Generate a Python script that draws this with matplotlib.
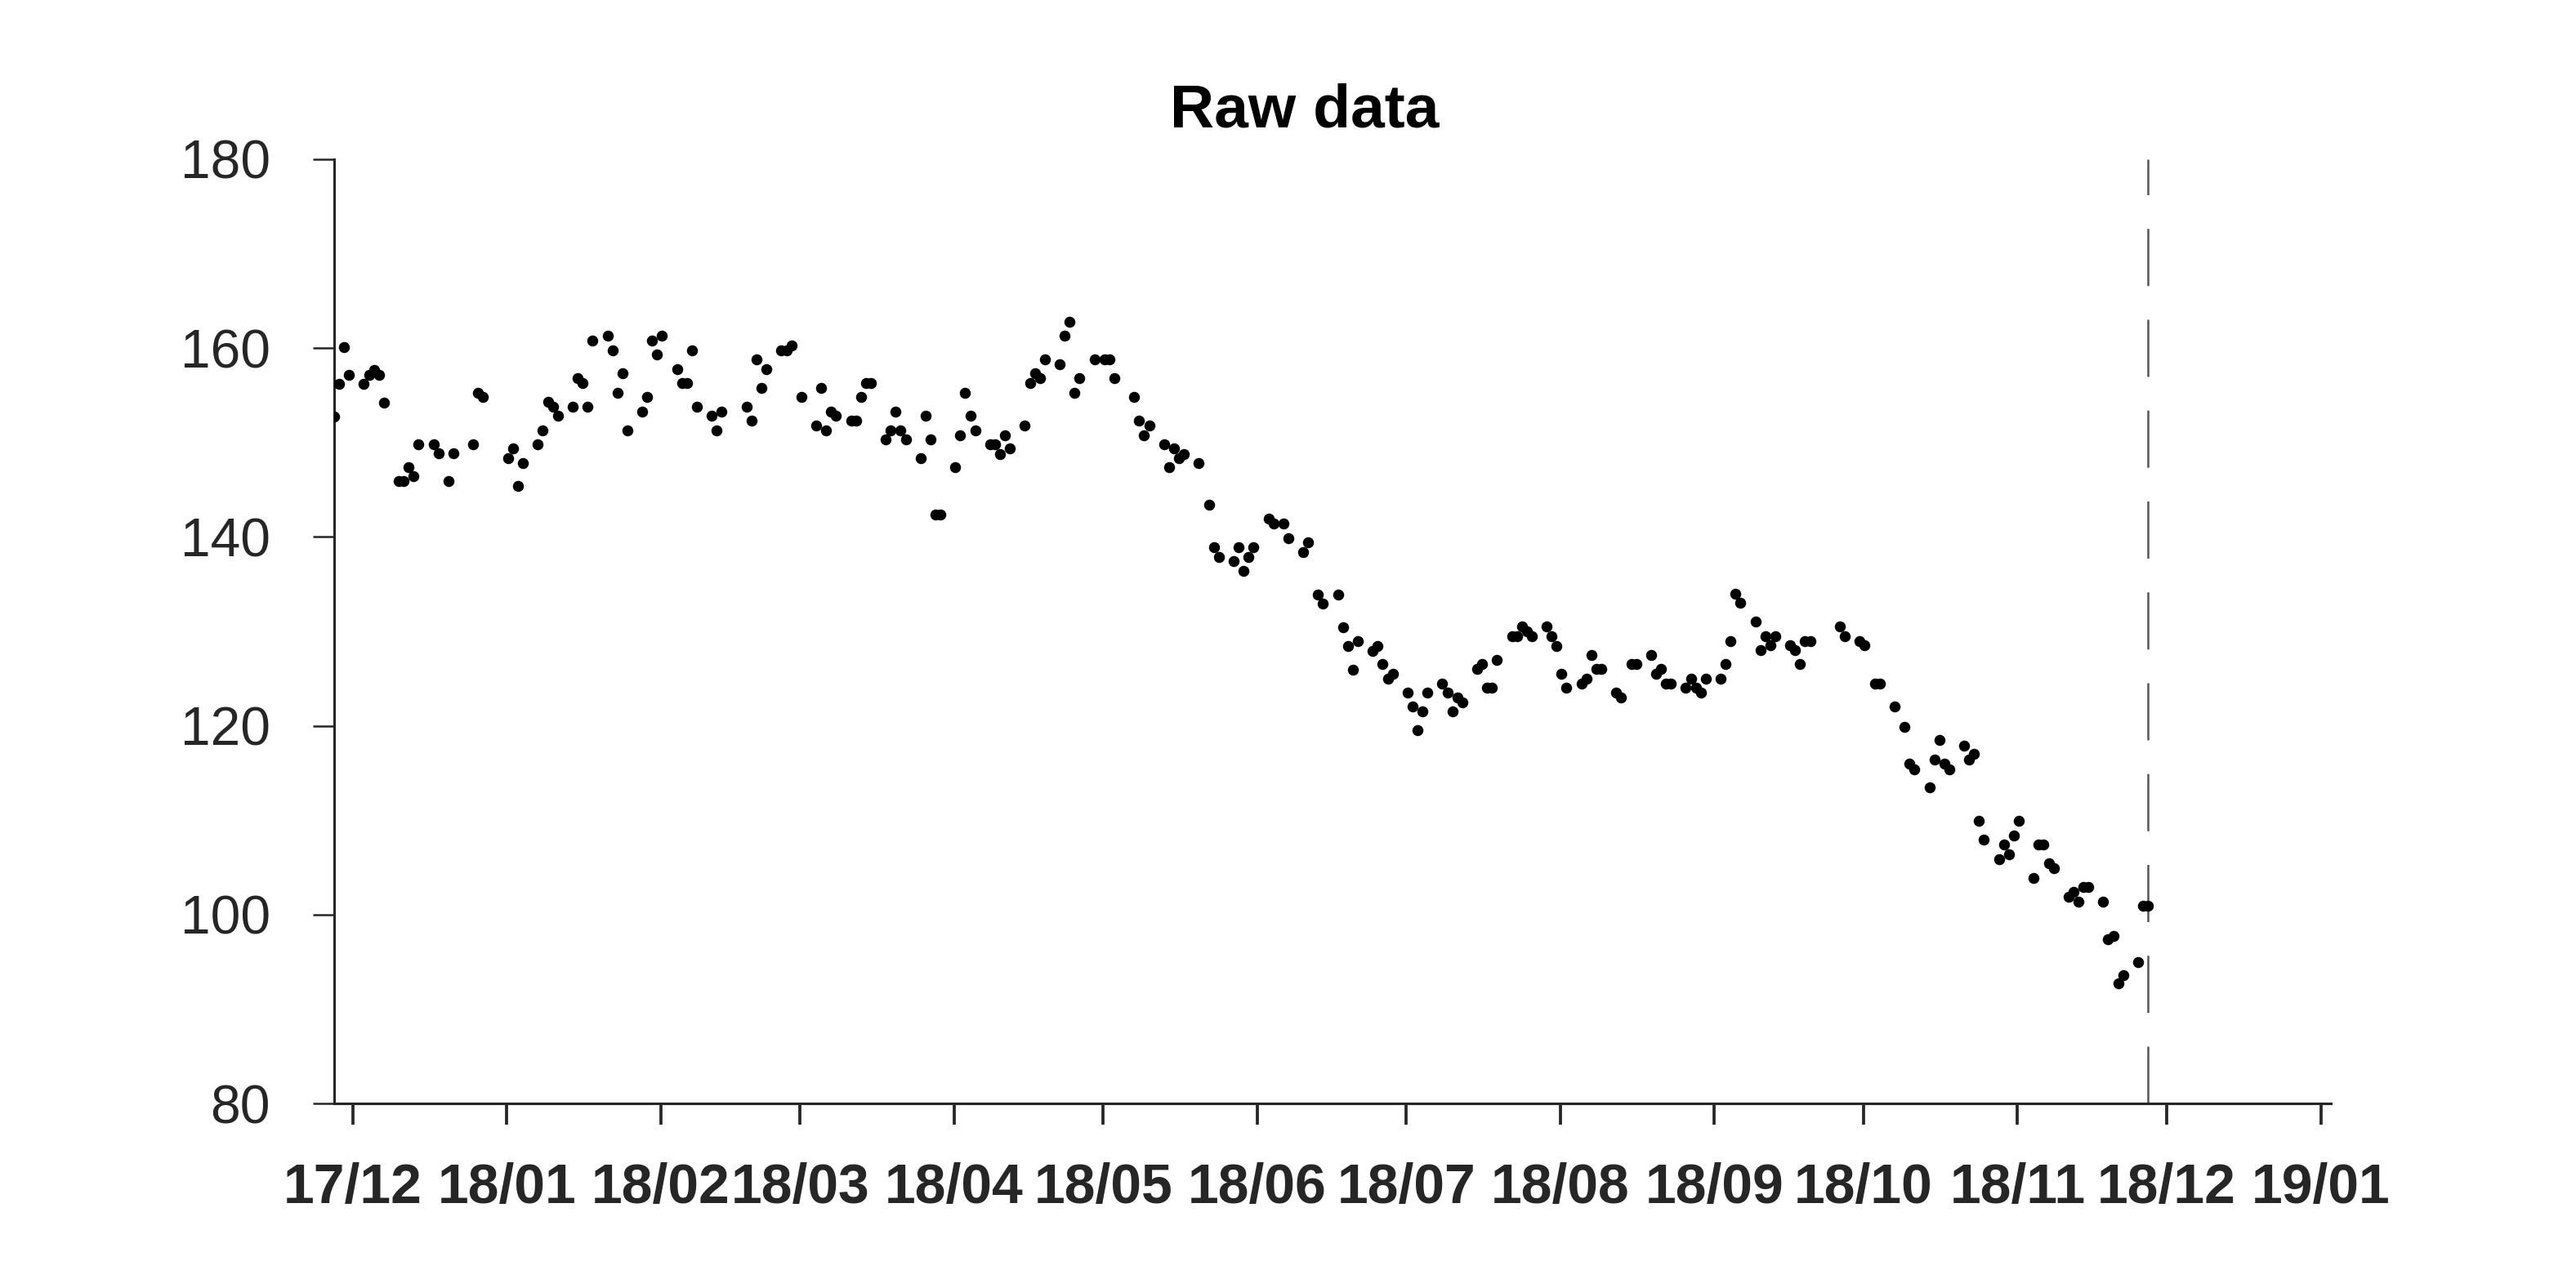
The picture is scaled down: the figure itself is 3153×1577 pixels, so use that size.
import matplotlib
matplotlib.use("Agg")
import matplotlib.pyplot as plt
import pandas as pd

plt.rcParams['font.family'] = ['Liberation Sans', 'DejaVu Sans']

title = "Raw data"

dates = [
    "2017-11-28", "2017-11-29", "2017-11-30", "2017-12-01",
    "2017-12-04", "2017-12-05", "2017-12-06", "2017-12-07", "2017-12-08",
    "2017-12-11", "2017-12-12", "2017-12-13", "2017-12-14", "2017-12-15",
    "2017-12-18", "2017-12-19", "2017-12-21", "2017-12-22",
    "2017-12-26", "2017-12-27", "2017-12-28",
    "2018-01-02", "2018-01-03", "2018-01-04", "2018-01-05",
    "2018-01-08", "2018-01-09", "2018-01-10", "2018-01-11", "2018-01-12",
    "2018-01-15", "2018-01-16", "2018-01-17", "2018-01-18", "2018-01-19",
    "2018-01-22", "2018-01-23", "2018-01-24", "2018-01-25", "2018-01-26",
    "2018-01-29", "2018-01-30", "2018-01-31", "2018-02-01", "2018-02-02",
    "2018-02-05", "2018-02-06", "2018-02-07", "2018-02-08", "2018-02-09",
    "2018-02-12", "2018-02-13", "2018-02-14",
    "2018-02-19", "2018-02-20", "2018-02-21", "2018-02-22", "2018-02-23",
    "2018-02-26", "2018-02-27", "2018-02-28", "2018-03-02",
    "2018-03-05", "2018-03-06", "2018-03-07", "2018-03-08", "2018-03-09",
    "2018-03-12", "2018-03-13", "2018-03-14", "2018-03-15", "2018-03-16",
    "2018-03-19", "2018-03-20", "2018-03-21", "2018-03-22", "2018-03-23",
    "2018-03-26", "2018-03-27", "2018-03-28", "2018-03-29", "2018-03-30",
    "2018-04-02", "2018-04-03", "2018-04-04", "2018-04-05", "2018-04-06",
    "2018-04-09", "2018-04-10", "2018-04-11", "2018-04-12", "2018-04-13",
    "2018-04-16", "2018-04-17", "2018-04-18", "2018-04-19", "2018-04-20",
    "2018-04-23", "2018-04-24", "2018-04-25", "2018-04-26", "2018-04-27",
    "2018-04-30", "2018-05-02", "2018-05-03", "2018-05-04",
    "2018-05-08", "2018-05-09", "2018-05-10", "2018-05-11",
    "2018-05-14", "2018-05-15", "2018-05-16", "2018-05-17", "2018-05-18",
    "2018-05-21", "2018-05-23", "2018-05-24", "2018-05-25",
    "2018-05-28", "2018-05-29", "2018-05-30", "2018-05-31", "2018-06-01",
    "2018-06-04", "2018-06-05", "2018-06-07", "2018-06-08",
    "2018-06-11", "2018-06-12", "2018-06-14", "2018-06-15",
    "2018-06-18", "2018-06-19", "2018-06-20", "2018-06-21", "2018-06-22",
    "2018-06-25", "2018-06-26", "2018-06-27", "2018-06-28", "2018-06-29",
    "2018-07-02", "2018-07-03", "2018-07-04", "2018-07-05", "2018-07-06",
    "2018-07-09", "2018-07-10", "2018-07-11", "2018-07-12", "2018-07-13",
    "2018-07-16", "2018-07-17", "2018-07-18", "2018-07-19", "2018-07-20",
    "2018-07-23", "2018-07-24", "2018-07-25", "2018-07-26", "2018-07-27",
    "2018-07-30", "2018-07-31", "2018-08-01", "2018-08-02", "2018-08-03",
    "2018-08-06", "2018-08-07", "2018-08-08", "2018-08-09", "2018-08-10",
    "2018-08-13", "2018-08-14", "2018-08-16", "2018-08-17",
    "2018-08-20", "2018-08-21", "2018-08-22", "2018-08-23", "2018-08-24",
    "2018-08-27", "2018-08-28", "2018-08-29", "2018-08-30", "2018-08-31",
    "2018-09-03", "2018-09-04", "2018-09-05", "2018-09-06", "2018-09-07",
    "2018-09-10", "2018-09-11", "2018-09-12", "2018-09-13", "2018-09-14",
    "2018-09-17", "2018-09-18", "2018-09-19", "2018-09-20", "2018-09-21",
    "2018-09-27", "2018-09-28",
    "2018-10-01", "2018-10-02", "2018-10-04", "2018-10-05",
    "2018-10-08", "2018-10-10", "2018-10-11", "2018-10-12",
    "2018-10-15", "2018-10-16", "2018-10-17", "2018-10-18", "2018-10-19",
    "2018-10-22", "2018-10-23", "2018-10-24", "2018-10-25", "2018-10-26",
    "2018-10-29", "2018-10-30", "2018-10-31", "2018-11-01", "2018-11-02",
    "2018-11-05", "2018-11-06", "2018-11-07", "2018-11-08", "2018-11-09",
    "2018-11-12", "2018-11-13", "2018-11-14", "2018-11-15", "2018-11-16",
    "2018-11-19", "2018-11-20", "2018-11-21", "2018-11-22", "2018-11-23",
    "2018-11-26", "2018-11-27", "2018-11-28",
]

prices = [
    152.75, 156.2, 160.1, 157.2,
    156.2, 157.2, 157.7, 157.2, 154.2,
    145.95, 145.95, 147.4, 146.4, 149.8,
    149.8, 148.9, 145.95, 148.9,
    149.8, 155.3, 154.8,
    148.3, 149.35, 145.4, 147.85,
    149.8, 151.3, 154.3, 153.8, 152.8,
    153.8, 156.8, 156.3, 153.8, 160.8,
    161.3, 159.8, 155.3, 157.3, 151.3,
    153.3, 154.8, 160.8, 159.3, 161.3,
    157.8, 156.3, 156.3, 159.8, 153.8,
    152.8, 151.3, 153.3,
    153.8, 152.3, 158.8, 155.8, 157.8,
    159.8, 159.8, 160.3, 154.8,
    151.8, 155.8, 151.3, 153.3, 152.8,
    152.3, 152.3, 154.8, 156.3, 156.3,
    150.3, 151.3, 153.3, 151.3, 150.3,
    148.3, 152.8, 150.3, 142.4, 142.4,
    147.4, 150.8, 155.3, 152.8, 151.3,
    149.8, 149.8, 148.8, 150.8, 149.35,
    151.8, 156.3, 157.3, 156.8, 158.8,
    158.3, 161.3, 162.8, 155.3, 156.8,
    158.8, 158.8, 158.8, 156.8,
    154.8, 152.3, 150.8, 151.8,
    149.8, 147.4, 149.35, 148.3, 148.8,
    147.85, 143.4, 138.9, 137.9,
    137.4, 138.9, 136.4, 137.9, 138.9,
    141.9, 141.4, 141.4, 139.9,
    138.4, 139.4, 133.9, 132.9,
    133.9, 130.4, 128.4, 125.96, 128.96,
    127.95, 128.4, 126.5, 125.0, 125.5,
    123.5, 122.0, 119.5, 121.5, 123.5,
    124.5, 123.5, 121.5, 123.0, 122.5,
    126.0, 126.5, 124.0, 124.0, 127.0,
    129.45, 129.45, 130.55, 130.0, 129.45,
    130.55, 129.45, 128.4, 125.5, 124.0,
    124.5, 125.0, 127.5, 126.0, 126.0,
    123.5, 122.96, 126.5, 126.5,
    127.5, 125.5, 126.0, 124.5, 124.5,
    124.0, 125.0, 124.0, 123.5, 125.0,
    125.0, 126.5, 128.96, 134.0, 133.0,
    131.0, 128.0, 129.5, 128.5, 129.5,
    128.5, 128.0, 126.5, 128.96, 128.96,
    130.5, 129.5,
    128.96, 128.5, 124.5, 124.5,
    122.0, 119.9, 116.0, 115.4,
    113.5, 116.4, 118.5, 116.0, 115.4,
    117.9, 116.4, 117.0, 109.9, 107.9,
    105.9, 107.4, 106.4, 108.4, 109.9,
    103.9, 107.4, 107.4, 105.4, 104.9,
    101.9, 102.4, 101.4, 102.9, 102.9,
    101.4, 97.4, 97.7, 92.7, 93.6,
    95.0, 100.9, 100.9,
]

yticks = [80, 100, 120, 140, 160, 180]
month_ticks = pd.date_range("2017-12-01", "2019-01-01", freq="MS")

x = pd.to_datetime(dates)
dark = '#262626'

fig = plt.figure(figsize=(3153 / 300, 1577 / 300), dpi=300)
ax = fig.add_axes([409 / 3153, 1 - 1351 / 1577, (2853 - 409) / 3153, (1351 - 195) / 1577])

ax.scatter(x, prices, s=10.5, color='black', linewidths=0, zorder=3)
ax.axvline(x[-1], color='#555555', lw=0.6, dashes=(28, 16.5), zorder=2)

ax.set_xlim(x[0], x[0] + pd.Timedelta(days=401.8))
ax.set_ylim(yticks[0], yticks[-1])
ax.set_yticks(yticks)
ax.set_xticks(month_ticks + pd.Timedelta(hours=18))
ax.set_xticklabels([d.strftime('%y/%m') for d in month_ticks], fontweight='bold')

for s in ['top', 'right']:
    ax.spines[s].set_visible(False)
for s in ['left', 'bottom']:
    ax.spines[s].set_color(dark)
    ax.spines[s].set_linewidth(0.75)

ax.tick_params(axis='y', direction='out', length=6.2, width=0.6, color=dark,
               labelsize=15.8, labelcolor=dark, pad=12.5)
ax.tick_params(axis='x', direction='out', length=6.2, width=0.9, color=dark,
               labelsize=16.3, labelcolor=dark, pad=11)

ax.set_title(title, fontsize=18, fontweight='bold', color='black', pad=9.5, x=0.486)

fig.savefig('out.png', dpi=300, facecolor='white')
